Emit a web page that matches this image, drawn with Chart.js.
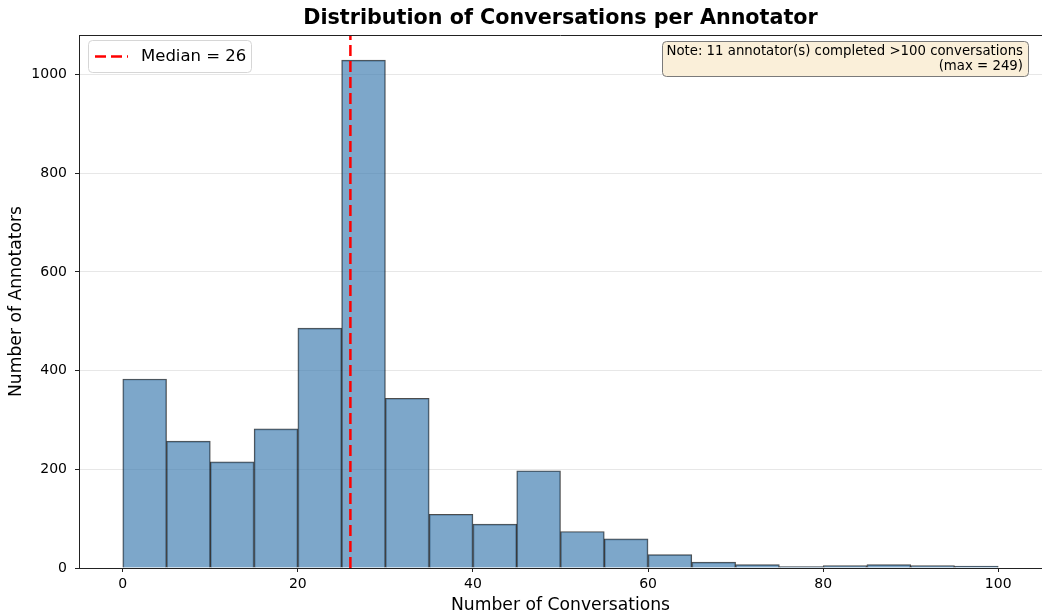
<!DOCTYPE html>
<html>
<head>
<meta charset="utf-8">
<script src="https://cdn.jsdelivr.net/npm/chart.js@4.4.1/dist/chart.umd.min.js"></script>
<style>
  html, body { margin: 0; padding: 0; background: #fff; }
  #wrap { width: 1042px; height: 613px; }
</style>
</head>
<body>
<div id="wrap"><canvas id="c" width="1042" height="613"></canvas></div>
<script>
// histogram bins (width 5) and annotator counts
var binStarts = [0, 5, 10, 15, 20, 25, 30, 35, 40, 45, 50, 55, 60, 65, 70, 75, 80, 85, 90, 95];
var binWidth = 5;
var counts = [383, 257, 215, 282, 486, 1029, 344, 109, 89, 197, 74, 59, 27, 12, 7, 3, 5, 7, 5, 4];
var median = 26;
var xTicks = [0, 20, 40, 60, 80, 100];
var yTicks = [0, 200, 400, 600, 800, 1000];
var noteLines = ["Note: 11 annotator(s) completed >100 conversations", "(max = 249)"];

var FONT = "'DejaVu Sans', 'Liberation Sans', sans-serif";

var barData = binStarts.map(function(s, i) {
	return { x: s + binWidth / 2, y: counts[i] };
});

var extras = {
	id: "extras",
	afterDraw: function(chart) {
		var ctx = chart.ctx, a = chart.chartArea;
		ctx.save();

		// top spine
		ctx.strokeStyle = "#222";
		ctx.lineWidth = 1;
		ctx.beginPath();
		ctx.moveTo(a.left, a.top + 0.5);
		ctx.lineTo(a.right, a.top + 0.5);
		ctx.stroke();

		// title
		ctx.fillStyle = "#000";
		ctx.font = "bold 20.7px " + FONT;
		ctx.textAlign = "center";
		ctx.textBaseline = "middle";
		ctx.fillText("Distribution of Conversations per Annotator", (a.left + a.right) / 2, 18.5);

		// legend box
		var med = chart.data.datasets[1];
		ctx.beginPath();
		ctx.roundRect(88.5, 40.5, 163, 32, 4);
		ctx.fillStyle = "rgba(255,255,255,0.8)";
		ctx.fill();
		ctx.strokeStyle = "#d6d6d6";
		ctx.stroke();
		ctx.strokeStyle = med.borderColor;
		ctx.lineWidth = med.borderWidth;
		ctx.setLineDash(med.borderDash);
		ctx.beginPath();
		ctx.moveTo(95, 56.5);
		ctx.lineTo(128, 56.5);
		ctx.stroke();
		ctx.setLineDash([]);
		ctx.fillStyle = "#000";
		ctx.font = "16.5px " + FONT;
		ctx.textAlign = "left";
		ctx.fillText(med.label, 141, 57);

		// note box
		ctx.beginPath();
		ctx.roundRect(662.5, 41.5, 366, 35, 4);
		ctx.fillStyle = "#faefd9";
		ctx.fill();
		ctx.strokeStyle = "#7a7a7a";
		ctx.lineWidth = 1;
		ctx.stroke();
		ctx.fillStyle = "#000";
		ctx.font = "13.3px " + FONT;
		ctx.textAlign = "right";
		ctx.fillText(noteLines[0], 1023, 51.5);
		ctx.fillText(noteLines[1], 1023, 66.5);

		ctx.restore();
	}
};

function plain(v) { return String(v); }

new Chart(document.getElementById("c"), {
	type: "bar",
	data: {
		datasets: [{
			type: "bar",
			label: "Annotators",
			data: barData,
			backgroundColor: "rgba(70,130,180,0.7)",
			borderColor: "rgba(0,0,0,0.7)",
			borderWidth: 1,
			barPercentage: 1,
			categoryPercentage: 1,
			order: 1
		}, {
			type: "line",
			label: "Median = " + median,
			data: [{ x: median, y: 0 }, { x: median, y: 1080 }],
			borderColor: "#ff0000",
			borderWidth: 2.5,
			borderDash: [11, 5],
			pointRadius: 0,
			fill: false,
			order: 0
		}]
	},
	options: {
		responsive: false,
		animation: false,
		devicePixelRatio: 1,
		layout: { padding: { top: 35, left: 0, right: 0, bottom: 0 } },
		plugins: {
			legend: { display: false },
			title: { display: false },
			tooltip: { enabled: false }
		},
		scales: {
			x: {
				type: "linear",
				min: -5,
				max: 105,
				offset: false,
				afterFit: function(s) { s.height = 45; },
				afterBuildTicks: function(s) { s.ticks = xTicks.map(function(v) { return { value: v }; }); },
				grid: { offset: false, drawOnChartArea: false, drawTicks: true, tickLength: 4, tickColor: "#222" },
				border: { display: true, color: "#222", width: 1 },
				ticks: { padding: 4, color: "#000", font: { family: FONT, size: 14 }, maxRotation: 0, callback: plain },
				title: { display: true, text: "Number of Conversations", color: "#000",
					font: { family: FONT, size: 17.2, lineHeight: 1 }, padding: { top: 0, bottom: -1 } }
			},
			y: {
				min: 0,
				max: 1080,
				afterFit: function(s) { s.width = 79; },
				afterBuildTicks: function(s) { s.ticks = yTicks.map(function(v) { return { value: v }; }); },
				grid: { color: "rgba(176,176,176,0.3)", drawTicks: true, tickLength: 4, tickColor: "#222" },
				border: { display: true, color: "#222", width: 1 },
				ticks: { padding: 8, color: "#000", font: { family: FONT, size: 14 }, callback: plain },
				title: { display: true, text: "Number of Annotators", color: "#000",
					font: { family: FONT, size: 17.2, lineHeight: 1 }, padding: { top: 7.5, bottom: 0 } }
			}
		}
	},
	plugins: [extras]
});
</script>
</body>
</html>
